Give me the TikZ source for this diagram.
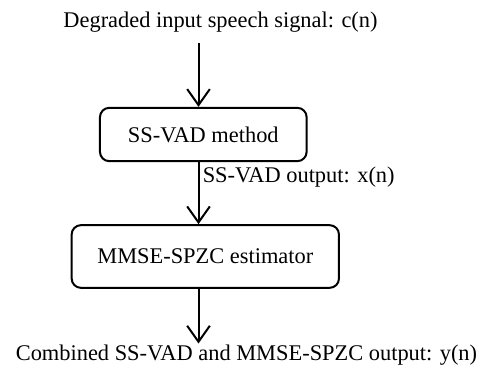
\documentclass[tikz,border=0pt]{standalone}
\usepackage{fontspec}
\setmainfont{Liberation Serif}
\usetikzlibrary{arrows.meta,positioning,calc}
\tikzset{
    block/.style={
        rectangle,
        rounded corners=7pt,
        line width=1.5pt,
        draw=black,
        align=center,
        inner sep=0pt,
    },
    sig/.style={
        inner sep=0pt,
        align=center,
    },
    flow/.style={
        line width=1.5pt,
    },
    every edge/.style={
        draw,
        -{Straight Barb[length=12pt,width=17pt]},
        line width=1.5pt,
    },
}

\begin{document}
\begin{tikzpicture}[x=0.75pt,y=-0.75pt,font=\fontsize{16.8}{20}\selectfont]
                        \useasboundingbox (0,0) rectangle (481,370);
                        \node [sig] at (220.5,22) (input) {Degraded input speech signal: c(n)};
                        \node [block,minimum width=155pt,minimum height=40pt] at (203.3,134.5) (vad) {SS-VAD method};
                        \node [block,minimum width=200.5pt,minimum height=47pt] at (205.3,256.5) (mmse) {MMSE-SPZC estimator};
                        \node [sig,anchor=west] at (202.5,177) (vadout) {SS-VAD output: x(n)};
                        \node [sig] at (246.5,355) (output) {Combined SS-VAD and MMSE-SPZC output: y(n)};
                        \coordinate (c1) at (198.5,43.5);
                        \coordinate (c2) at (198.5,343.5);
                        \draw [flow] (c1) edge (c1 |- vad.north);
                        \draw [flow] (c1 |- vad.south) edge (c1 |- mmse.north);
                        \draw [flow] (c1 |- mmse.south) edge (c2);
                    \end{tikzpicture}
\end{document}
